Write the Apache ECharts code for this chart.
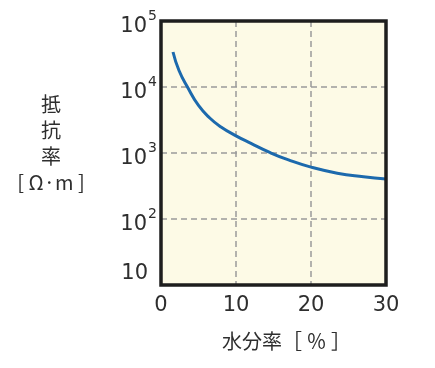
<!DOCTYPE html>
<html><head><meta charset="utf-8">
<script src="https://cdn.jsdelivr.net/npm/echarts@6/dist/echarts.min.js"></script>
<style>html,body{margin:0;padding:0;background:#fff}#c{width:435px;height:368px}</style>
</head><body><div id="c"></div>
<script>
const moisture = [1.6, 2.4, 3.6, 5, 6.5, 8, 10, 12, 14.5, 17, 20, 23.5, 27, 30];
const resistivity = [33900, 17800, 9660, 5250, 3390, 2480, 1820, 1400, 1020, 785, 610, 495, 437, 403];
const xTicks = ['0', '10', '20', '30'];
const yExponents = {10: null, 100: '2', 1000: '3', 10000: '4', 100000: '5'};
const yAxisTitle = '抵\n抗\n率\n[ Ω·m ]';
const xAxisTitle = '水分率［ ％ ］';

const W = 435, H = 368;
const G = {left: 161, top: 21, right: 49, bottom: 83};
const chart = echarts.init(document.getElementById('c'));
const nf = '"DejaVu Sans", sans-serif';
const jf = '"Noto Sans CJK JP", sans-serif';
const txt = '#2e2e2e';
chart.setOption({
  animation: false,
  grid: Object.assign({show: true, backgroundColor: '#fdfae6', borderWidth: 0}, G),
  xAxis: {type: 'value', min: 0, max: 30, interval: 10,
    axisLine: {show: false}, axisTick: {show: false},
    axisLabel: {fontSize: 21, color: txt, fontFamily: nf, margin: 10,
      formatter: v => xTicks[Math.round(v / 10)]},
    splitLine: {show: true, lineStyle: {type: [6, 4], color: '#9a9a9a', width: 1.5}}},
  yAxis: {type: 'log', logBase: 10, min: 10, max: 100000,
    axisLine: {show: false}, axisTick: {show: false},
    axisLabel: {margin: 4, color: txt,
      formatter: v => {
        const e = yExponents[Math.round(v)];
        return e ? '{b|10}{s|' + e + '}' : '{bb|10}';
      },
      rich: {b: {fontSize: 21, fontFamily: nf, color: txt, padding: [12, 0, 0, 0]},
             bb: {fontSize: 21, fontFamily: nf, color: txt, padding: [0, 9, 22, 0]},
             s: {fontSize: 14, fontFamily: nf, color: txt, padding: [0, 0, 9, 1]}}},
    splitLine: {show: true, lineStyle: {type: [6, 4], color: '#9a9a9a', width: 1.5}}},
  series: [{type: 'line', data: moisture.map((x, i) => [x, resistivity[i]]),
    smooth: 0.5, showSymbol: false,
    lineStyle: {color: '#1c69ad', width: 3}}],
  graphic: [
    {type: 'rect', z: 100, shape: {x: G.left, y: G.top, width: W - G.left - G.right, height: H - G.top - G.bottom},
      style: {fill: 'none', stroke: '#1e1e1e', lineWidth: 3.5}},
    {type: 'text', x: 51, y: 91, style: {text: yAxisTitle, fontSize: 20, fontFamily: jf,
      fill: txt, align: 'center', lineHeight: 26}},
    {type: 'text', x: 222, y: 331, style: {text: xAxisTitle, fontSize: 20, fontFamily: jf, fill: txt}}
  ]
});
</script></body></html>
